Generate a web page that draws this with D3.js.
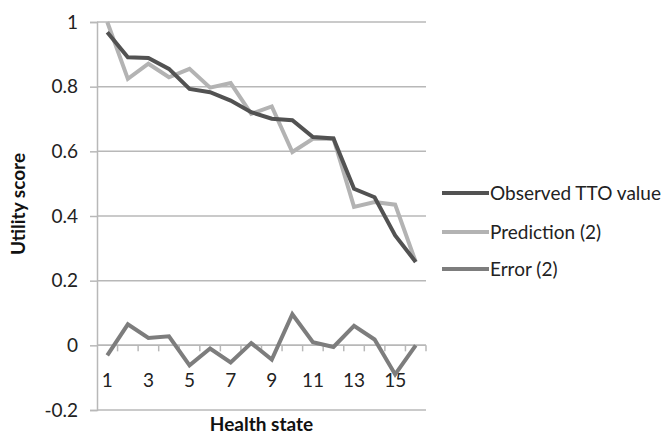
<!DOCTYPE html>
<html>
<head>
<meta charset="utf-8">
<script src="https://cdn.jsdelivr.net/npm/d3@7"></script>
<style>
  html, body { margin: 0; padding: 0; background: #fff; }
  svg { display: block; font-family: Lato, "Open Sans", sans-serif; }
</style>
</head>
<body>
<svg id="chart" width="668" height="435"></svg>
<script>
const categories = [1,2,3,4,5,6,7,8,9,10,11,12,13,14,15,16];
const observed   = [0.968,0.891,0.889,0.855,0.793,0.783,0.757,0.721,0.701,0.696,0.644,0.640,0.484,0.458,0.340,0.258];
const prediction = [1.000,0.824,0.871,0.829,0.855,0.797,0.811,0.716,0.739,0.598,0.639,0.640,0.428,0.443,0.435,0.258];
const errorVals  = [-0.031,0.065,0.023,0.028,-0.062,-0.010,-0.053,0.007,-0.044,0.096,0.010,-0.005,0.060,0.018,-0.090,0.000];
const yTicks = [-0.2,0,0.2,0.4,0.6,0.8,1];
const xTickLabels = ["1","","3","","5","","7","","9","","11","","13","","15",""];
const seriesNames = ["Observed TTO value","Prediction (2)","Error (2)"];
const seriesColors = ["#525252","#b3b3b3","#7d7d7d"];

const svg = d3.select("#chart");
const pLeft = 97, pRight = 426, pTop = 22, pBottom = 410;

const x = d3.scaleBand().domain(categories).range([pLeft, pRight]);
const y = d3.scaleLinear().domain([-0.2, 1]).range([pBottom, pTop]);

// gridlines
svg.append("g").selectAll("line").data(yTicks).join("line")
  .attr("x1", pLeft).attr("x2", pRight)
  .attr("y1", d => y(d)).attr("y2", d => y(d))
  .attr("stroke", "#b8b8b8").attr("stroke-width", 1.5);

// y axis
const yAxis = svg.append("g").attr("transform", `translate(${pLeft},0)`)
  .call(d3.axisLeft(y).tickValues(yTicks).tickSize(7).tickPadding(12)
        .tickFormat(d => String(+d.toFixed(1))));
yAxis.select(".domain").attr("stroke", "#b8b8b8").attr("stroke-width", 1.5);
yAxis.selectAll(".tick line").attr("stroke", "#b8b8b8").attr("stroke-width", 1.5);
yAxis.selectAll("text").attr("font-size", 19).attr("fill", "#222").attr("font-family", "Lato");

// x axis at zero (category axis with tick marks between categories)
const xAxisG = svg.append("g").attr("transform", `translate(0,${y(0)})`);
xAxisG.append("line").attr("x1", pLeft).attr("x2", pRight).attr("y1", 0).attr("y2", 0)
  .attr("stroke", "#b8b8b8").attr("stroke-width", 1.5);
const boundaries = categories.map(c => x(c)).concat([x(categories[categories.length-1]) + x.bandwidth()]);
xAxisG.selectAll("line.tk").data(boundaries.slice(1)).join("line").attr("class", "tk")
  .attr("x1", d => d).attr("x2", d => d).attr("y1", 0).attr("y2", 6)
  .attr("stroke", "#b8b8b8").attr("stroke-width", 1.5);
xAxisG.selectAll("text").data(categories).join("text")
  .attr("x", d => x(d) + x.bandwidth()/2).attr("y", 42)
  .attr("text-anchor", "middle").attr("font-size", 19).attr("fill", "#222")
  .text((d, i) => xTickLabels[i]);

// lines
const line = d3.line().x((d, i) => x(categories[i]) + x.bandwidth()/2).y(d => y(d));
const allSeries = [observed, prediction, errorVals];
[2, 1, 0].forEach(k => {
  svg.append("path").datum(allSeries[k])
    .attr("fill", "none").attr("stroke", seriesColors[k])
    .attr("stroke-width", 4).attr("stroke-linejoin", "miter")
    .attr("d", line);
});

// axis titles
svg.append("text").attr("x", (pLeft + pRight) / 2).attr("y", 431)
  .attr("text-anchor", "middle").attr("font-weight", "bold").attr("font-size", 19)
  .attr("fill", "#111").text("Health state");
svg.append("text").attr("transform", `translate(25,204) rotate(-90)`)
  .attr("text-anchor", "middle").attr("font-weight", "bold").attr("font-size", 19)
  .attr("fill", "#111").text("Utility score");

// legend
const legendY = [193, 232, 269];
const lg = svg.append("g");
seriesNames.forEach((name, i) => {
  lg.append("line").attr("x1", 442).attr("x2", 489)
    .attr("y1", legendY[i]).attr("y2", legendY[i])
    .attr("stroke", seriesColors[i]).attr("stroke-width", 4);
  lg.append("text").attr("x", 490).attr("y", legendY[i]).attr("dy", "0.35em")
    .attr("font-size", 19).attr("fill", "#222").text(name);
});
</script>
</body>
</html>
